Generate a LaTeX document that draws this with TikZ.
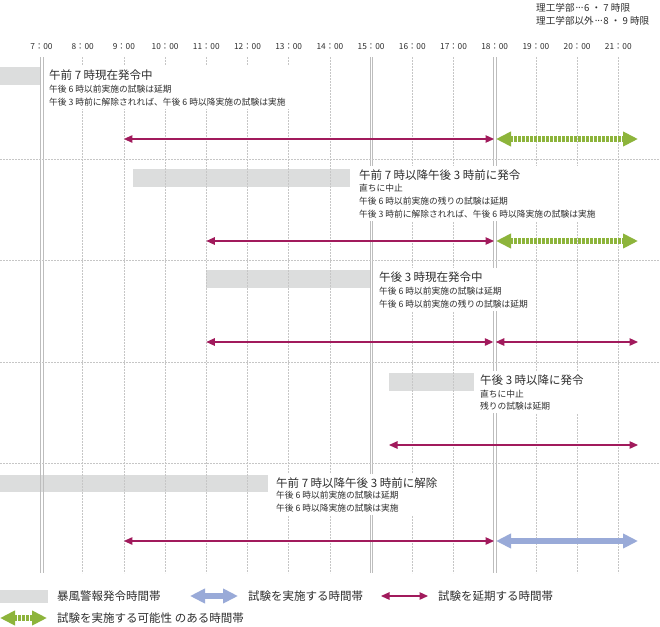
\documentclass[tikz,border=0pt]{standalone}
\usepackage{fontspec}
\setmainfont{Noto Sans CJK JP}
\usetikzlibrary{arrows.meta,fit}
\definecolor{delay}{HTML}{A11A5C}
\definecolor{gobar}{HTML}{99AAD8}
\definecolor{maybe}{HTML}{8DB43B}
\definecolor{warnbar}{HTML}{DCDDDD}
\definecolor{gridc}{HTML}{BDBDBD}
\definecolor{gridd}{HTML}{C6C6C6}
\definecolor{ink}{HTML}{2E2E2E}
\pgfdeclarelayer{gridlayer}
\pgfdeclarelayer{blanklayer}
\pgfsetlayers{gridlayer,blanklayer,main}
\tikzset{
  dtip/.tip={Triangle[length=8.5pt,width=7.5pt]},
  btip/.tip={Triangle[length=15pt,width=14pt]},
  ttl/.style={anchor=west, inner sep=0pt, font=\fontsize{11.5}{13}\selectfont, text=ink},
  sub/.style={anchor=west, inner sep=0pt, font=\fontsize{8.75}{10}\selectfont, text=ink},
  hourlab/.style={inner sep=0pt, font=\fontsize{8.3}{10}\selectfont, text=ink},
  note/.style={anchor=west, inner sep=0pt, font=\fontsize{9.6}{12}\selectfont, text=ink},
  blankbox/.style={fill=white, draw=none, inner sep=3pt},
  warn/.style={fill=warnbar},
  gridsolid/.style={draw=gridc, line width=0.6pt},
  griddot/.style={draw=gridd, line width=0.5pt, dash pattern=on 1.6pt off 1.4pt},
  delayboth/.style={draw=delay, line width=1.2pt, arrows={dtip-dtip}},
  maybearrow/.style={draw=maybe, line width=5.5pt, dash pattern=on 2.7pt off 1.3pt, arrows={btip-btip}},
  goarrow/.style={draw=gobar, line width=5.5pt, arrows={btip-btip}},
}
\newcommand{\fwdots}{\makebox[1em][s]{\hspace{0.1em}\raisebox{0.3em}{.}\hfil\raisebox{0.3em}{.}\hfil\raisebox{0.3em}{.}\hspace{0.1em}}}
\begin{document}
\begin{tikzpicture}[x=1pt,y=-1pt]
\useasboundingbox (0,0) rectangle (660,626);

% top-right note
\node[note] (n1) at (536,8) {理工学部\fwdots 6 ・ 7 時限};
\node[note] (n2) at (536,21) {理工学部以外\fwdots 8 ・ 9 時限};

\begin{pgfonlayer}{gridlayer}
  \fill[white] (0,0) rectangle (660,626);
  % warning bars
  \fill[warn] (0,67) rectangle (40,85);
  \fill[warn] (133,169) rectangle (350,187);
  \fill[warn] (206.3,270) rectangle (370,288);
  \fill[warn] (389,373) rectangle (474,391);
  \fill[warn] (0,475) rectangle (268,492);
  % grid
  \foreach \h in {8,...,14,16,17,19,20,21}{
    \pgfmathsetmacro\xx{41.5+(\h-7)*41.2}
    \draw[griddot] (\xx,57) -- (\xx,573);
  }
  \foreach \h in {7,15,18}{
    \pgfmathsetmacro\xx{41.5+(\h-7)*41.2}
    \draw[gridsolid] ({\xx-1.3},57) -- ({\xx-1.3},573);
    \draw[gridsolid] ({\xx+1.3},57) -- ({\xx+1.3},573);
  }
  \foreach \yy in {159,260,362,463}{
    \draw[griddot] (0,\yy) -- (660,\yy);
  }
\end{pgfonlayer}

% hour labels
\foreach \h in {7,...,21}{
  \pgfmathsetmacro\xx{41.5+(\h-7)*41.2}
  \node[hourlab] (lab\h) at (\xx,47) {\h：00};
}

% section 1
\node[ttl] (s1t) at (49,75) {午前 7 時現在発令中};
\node[sub] (s1a) at (49,89) {午後 6 時以前実施の試験は延期};
\node[sub] (s1b) at (49,102) {午後 3 時前に解除されれば、午後 6 時以降実施の試験は実施};
% section 2
\node[ttl] (s2t) at (359,175) {午前 7 時以降午後 3 時前に発令};
\node[sub] (s2a) at (359,188) {直ちに中止};
\node[sub] (s2b) at (359,201) {午後 6 時以前実施の残りの試験は延期};
\node[sub] (s2c) at (359,214) {午後 3 時前に解除されれば、午後 6 時以降実施の試験は実施};
% section 3
\node[ttl] (s3t) at (379,277) {午後 3 時現在発令中};
\node[sub] (s3a) at (379,291) {午後 6 時以前実施の試験は延期};
\node[sub] (s3b) at (379,304) {午後 6 時以前実施の残りの試験は延期};
% section 4
\node[ttl] (s4t) at (480,380) {午後 3 時以降に発令};
\node[sub] (s4a) at (480,394) {直ちに中止};
\node[sub] (s4b) at (480,406) {残りの試験は延期};
% section 5
\node[ttl] (s5t) at (276,483) {午前 7 時以降午後 3 時前に解除};
\node[sub] (s5a) at (276,495) {午後 6 時以前実施の試験は延期};
\node[sub] (s5b) at (276,508) {午後 6 時以降実施の試験は実施};

\begin{pgfonlayer}{blanklayer}
  \node[blankbox, fit=(s1t)(s1a)(s1b)] (b1) {};
  \node[blankbox, fit=(s2t)(s2a)(s2b)(s2c)] (b2) {};
  \node[blankbox, fit=(s3t)(s3a)(s3b)] (b3) {};
  \node[blankbox, fit=(s4t)(s4a)(s4b)] (b4) {};
  \node[blankbox, fit=(s5t)(s5a)(s5b)] (b5) {};
\end{pgfonlayer}

% arrows
\coordinate (a1s) at (123.9,139); \coordinate (a1m) at (494,139);
\coordinate (a1n) at (496,139);   \coordinate (a1e) at (638,139);
\draw[delayboth] (a1s) -- (a1m);
\draw[maybearrow] (a1n) -- (a1e);

\coordinate (a2s) at (206.3,241); \coordinate (a2m) at (494,241);
\coordinate (a2n) at (496,241);   \coordinate (a2e) at (638,241);
\draw[delayboth] (a2s) -- (a2m);
\draw[maybearrow] (a2n) -- (a2e);

\coordinate (a3s) at (206.3,342); \coordinate (a3m) at (493.3,342);
\coordinate (a3n) at (495.8,342); \coordinate (a3e) at (638,342);
\draw[delayboth] (a3s) -- (a3m);
\draw[delayboth] (a3n) -- (a3e);

\coordinate (a4s) at (389,445); \coordinate (a4e) at (638,445);
\draw[delayboth] (a4s) -- (a4e);

\coordinate (a5s) at (123.9,541); \coordinate (a5m) at (494,541);
\coordinate (a5n) at (496,541);   \coordinate (a5e) at (638,541);
\draw[delayboth] (a5s) -- (a5m);
\draw[goarrow] (a5n) -- (a5e);

% legend
\fill[warn] (0,590) rectangle (48,603);
\node[ttl] (l1) at (57,596) {暴風警報発令時間帯};
\coordinate (lbs) at (190,596); \coordinate (lbe) at (238,596);
\draw[goarrow] (lbs) -- (lbe);
\node[ttl] (l2) at (248,596) {試験を実施する時間帯};
\coordinate (lds) at (381,596); \coordinate (lde) at (428,596);
\draw[delayboth] (lds) -- (lde);
\node[ttl] (l3) at (438,596) {試験を延期する時間帯};
\coordinate (lgs) at (0,618); \coordinate (lge) at (47,618);
\draw[maybearrow] (lgs) -- (lge);
\node[ttl] (l4) at (57,618) {試験を実施する可能性 のある時間帯};
\end{tikzpicture}
\end{document}
